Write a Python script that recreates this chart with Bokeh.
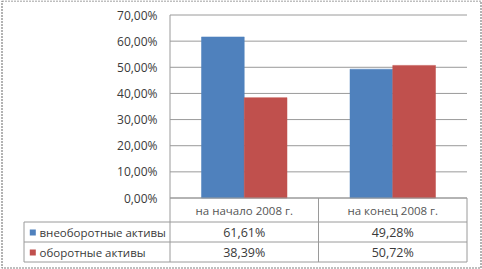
from bokeh.plotting import figure
from bokeh.models import Range1d
from bokeh.core.properties import value
from bokeh.embed import file_html
from bokeh.resources import INLINE

# ---- data ----
categories = ["на начало 2008 г.", "на конец 2008 г."]
series_names = ["внеоборотные активы", "оборотные активы"]
non_current = [61.61, 49.28]
current = [38.39, 50.72]
series_colors = ["#4F81BD", "#C0504D"]
y_ticks = [0, 10, 20, 30, 40, 50, 60, 70]


def pct(v):
    return f"{v:.2f}%".replace(".", ",")


y_tick_labels = [pct(t) for t in y_ticks]

# ---- layout (pixel geometry -> data coordinates) ----
W, H = 482, 269
X0, XU = 169.5, 148.5      # px of category-space 0, px per category
Y0, YU = 197.5, 183.0 / 70  # px of 0 %, px per percent


def fx(px):
    return (px - X0) / XU


def fy(py):
    return (Y0 - py) / YU


p = figure(width=W, height=H, output_backend="svg", toolbar_location=None,
           x_range=Range1d(fx(0), fx(W)), y_range=Range1d(fy(H), fy(0)),
           x_axis_location=None, y_axis_location=None, min_border=0)
p.min_border_left = p.min_border_right = p.min_border_top = p.min_border_bottom = 0
p.grid.visible = False
p.outline_line_color = None
p.background_fill_color = "white"
p.border_fill_color = "white"

FONT = value("Open Sans")
TXT = "#3a3a3a"
GRID = "#9a9a9a"

n = len(categories)
xmax = float(n)

# gridlines
p.segment(x0=[0] * len(y_ticks), x1=[xmax] * len(y_ticks), y0=y_ticks, y1=y_ticks,
          line_color=GRID, line_width=1)

# bars
bw = 42.75 / XU
centers = [i + 0.5 for i in range(n)]
p.vbar(x=[c - bw / 2 for c in centers], top=non_current, bottom=0, width=bw,
       fill_color=series_colors[0], line_color=series_colors[0], line_width=0.5)
p.vbar(x=[c + bw / 2 for c in centers], top=current, bottom=0, width=bw,
       fill_color=series_colors[1], line_color=series_colors[1], line_width=0.5)

# tick labels
p.text(x=[fx(157)] * len(y_ticks), y=y_ticks, text=y_tick_labels,
       text_font=FONT, text_font_size="12px", text_color=TXT,
       text_align="right", text_baseline="middle")

# table lines
r1, r2, r3 = fy(221.5), fy(241.5), fy(261.5)
lx = fx(23.5)
hx0 = [0, lx, lx, lx]
hx1 = [xmax, xmax, xmax, xmax]
hy = [0, r1, r2, r3]
p.segment(x0=hx0, x1=hx1, y0=hy, y1=hy, line_color=GRID, line_width=1)
vx = [lx, 0, 1, xmax]
vy0 = [r1, 70, 0, 0]
p.segment(x0=vx, x1=vx, y0=vy0, y1=[r3] * 4, line_color=GRID, line_width=1)

# category header labels
p.text(x=centers, y=[fy(210)] * n, text=categories, text_font=FONT,
       text_font_size="11.5px", text_color="#555555", text_align="center",
       text_baseline="middle")

# table rows
row_y = [fy(232), fy(252)]
for vals, ry in zip([non_current, current], row_y):
    p.text(x=centers, y=[ry] * n, text=[pct(v) for v in vals], text_font=FONT,
           text_font_size="12.5px", text_color=TXT, text_align="center",
           text_baseline="middle")

p.rect(x=[fx(32.3)] * 2, y=[fy(232), fy(252)], width=6 / XU, height=6 / YU,
       fill_color=series_colors, line_color=None)
p.text(x=[fx(39)] * 2, y=row_y, text=series_names, text_font=FONT,
       text_font_size="11.5px", text_color=TXT, text_align="left",
       text_baseline="middle")

# outer frame
p.quad(left=[fx(1.5)], right=[fx(480.5)], top=[fy(0.5)], bottom=[fy(267.5)],
       fill_color=None, line_color="#808080", line_width=1.2, line_dash="2 1")

open("out.html", "w").write(file_html(p, INLINE))
